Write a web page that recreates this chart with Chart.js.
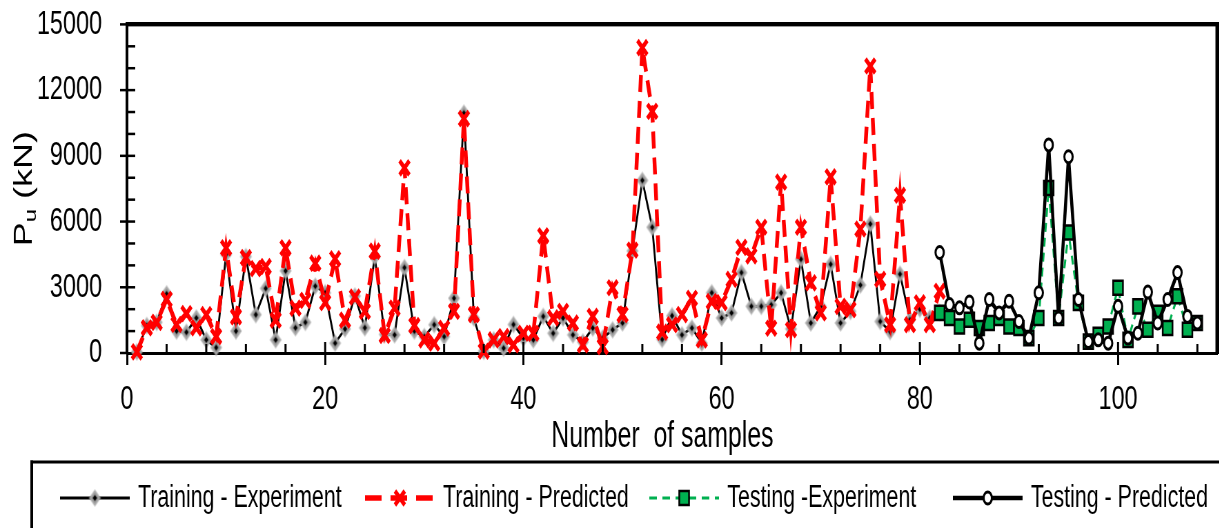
<!DOCTYPE html>
<html>
<head>
<meta charset="utf-8">
<title>Pu - training / testing</title>
<script src="https://cdn.jsdelivr.net/npm/chart.js@4.4.1/dist/chart.umd.min.js"></script>
<style>
  html, body { margin: 0; padding: 0; background: #fff; overflow: hidden; }
  /* the original figure is squeezed horizontally, so draw wide and squeeze */
  #wrap { width: 1767px; height: 528px; transform: scaleX(0.69); transform-origin: 0 0; }
</style>
</head>
<body>
<div id="wrap"><canvas id="chart" width="1767" height="528"></canvas></div>
<script>
// ── Data ────────────────────────────────────────────────
const TRAIN_FIRST = 1;
const TEST_FIRST = 82;

const trainExperiment = [
  50, 1250, 1400, 2700, 1000, 950, 1600, 600, 250, 4500,
  1000, 4400, 1750, 2950, 600, 3750, 1150, 1400, 3050, 2750,
  450, 1100, 2600, 1150, 4400, 850, 830, 3900, 1000, 750,
  1290, 750, 2500, 10950, 1600, 80, 600, 220, 1300, 680,
  600, 1670, 900, 1600, 830, 500, 1140, 680, 1060, 1370,
  4660, 7880, 5740, 620, 1700, 830, 1140, 450, 2750, 1600,
  1830, 3670, 2130, 2130, 2200, 2750, 1100, 4280, 1370, 2130,
  4050, 1370, 1900, 3100, 5890, 1440, 980, 3600, 1520, 2000,
  1600, 1850,
];
const trainPredicted = [
  50, 1150, 1400, 2450, 1300, 1800, 1150, 1750, 750, 4800,
  1650, 4350, 3850, 3950, 1500, 4800, 2050, 2400, 4100, 2300,
  4300, 1500, 2550, 1900, 4650, 800, 2050, 8450, 1250, 600,
  450, 1130, 1900, 10700, 1750, 80, 600, 750, 370, 900,
  900, 5350, 1600, 1900, 1370, 370, 1670, 290, 2980, 1750,
  4700, 13940, 11030, 950, 1290, 1750, 2500, 600, 2350, 2300,
  3360, 4820, 4430, 5740, 1130, 7800, 1060, 5740, 3200, 1830,
  8040, 2130, 1980, 5660, 13100, 3360, 1290, 7200, 1290, 2290,
  1290, 2820,
];
const testExperiment = [
  1830, 1600, 1210, 1520, 1140, 1370, 1600, 1210, 1140, 680,
  1600, 7530, 1600, 5500, 2290, 520, 830, 1210, 2980, 600,
  2130, 1060, 1830, 1140, 2590, 1060, 1370,
];
const testPredicted = [
  4590, 2210, 2060, 2330, 450, 2440, 1830, 2360, 1440, 680,
  2750, 9500, 1600, 8960, 2440, 520, 600, 450, 2130, 680,
  900, 2780, 1370, 2440, 3670, 1670, 1370,
];

const X_MIN = 0, X_MAX = 110, X_STEP = 20, X_MINOR = 4;
const Y_MIN = 0, Y_MAX = 15000, Y_STEP = 3000, Y_MINOR = 1000;

const X_TITLE = "Number  of samples";
const LABELS = ["Training - Experiment", "Training - Predicted", "Testing -Experiment", "Testing - Predicted"];

// ── Styling ─────────────────────────────────────────────
const FONT = '"Liberation Sans", Arial, sans-serif';
const GREEN = "#00b050";
const RED = "#ff0000";

function pts(vals, first) {
  return vals.map((v, i) => ({ x: first + i, y: v }));
}

function diamondImage() {
  const c = document.createElement("canvas");
  c.width = 20;
  c.height = 20;
  const g = c.getContext("2d");
  const d = (r, col) => {
    g.fillStyle = col;
    g.beginPath();
    g.moveTo(10, 10 - r);
    g.lineTo(10 + r, 10);
    g.lineTo(10, 10 + r);
    g.lineTo(10 - r, 10);
    g.closePath();
    g.fill();
  };
  d(9, "rgba(170,170,170,0.6)");
  d(7.5, "#a8a8a8");
  d(5, "#8a8a8a");
  d(3, "#000");
  return c;
}
const DIAMOND = diamondImage();

// frame-only axes (top and right edges of the plot box)
const frameAxis = (position, width) => ({
  type: "linear",
  position,
  display: true,
  min: 0,
  max: 1,
  ticks: { display: false },
  grid: { display: false, drawTicks: false },
  border: { display: true, color: "#000", width },
});

// ── Ticks, titles and legend ────────────────────────────
const decorPlugin = {
  id: "decor",
  afterDraw(chart) {
    const { ctx, scales } = chart;
    const x = scales.x, y = scales.y;
    const left = x.getPixelForValue(X_MIN);
    const right = x.getPixelForValue(X_MAX);
    const top = y.getPixelForValue(Y_MAX);
    const bottom = y.getPixelForValue(Y_MIN);
    ctx.save();
    ctx.fillStyle = "#000";

    // plot box top and right
    ctx.fillRect(left, top - 2, right - left + 2, 4);
    ctx.fillRect(right - 2.5, top - 2, 5, bottom - top + 2);

    // x ticks: minor ones inside, major ones cross the axis
    for (let v = X_MIN + X_MINOR; v < X_MAX; v += X_MINOR) {
      const px = x.getPixelForValue(v);
      const len = v % X_STEP === 0 ? 11 : 9;
      ctx.fillRect(px - 1.5, bottom - len, 3, len);
    }
    // y ticks: all inside, majors also outside
    for (let v = Y_MIN; v <= Y_MAX; v += Y_MINOR) {
      const py = y.getPixelForValue(v);
      if (v > Y_MIN) ctx.fillRect(left, py - 1.25, 12, 2.5);
      if (v % Y_STEP === 0) ctx.fillRect(left - 10, py - 1.25, 10, 2.5);
    }

    // x title
    ctx.font = "36px " + FONT;
    ctx.textAlign = "center";
    ctx.textBaseline = "middle";
    ctx.fillText(X_TITLE, (left + right) / 2 - 14, 437);

    // y title P_u (kN), rotated
    ctx.save();
    ctx.translate(36, (top + bottom) / 2);
    ctx.rotate(-Math.PI / 2);
    ctx.textAlign = "left";
    ctx.font = "36px " + FONT;
    const wP = ctx.measureText("P").width;
    const wRest = ctx.measureText(" (kN)").width;
    ctx.font = "24px " + FONT;
    const wU = ctx.measureText("u").width;
    let tx = -(wP + wU + wRest) / 2;
    ctx.font = "36px " + FONT;
    ctx.fillText("P", tx, 0);
    tx += wP;
    ctx.font = "24px " + FONT;
    ctx.fillText("u", tx, 9);
    tx += wU;
    ctx.font = "36px " + FONT;
    ctx.fillText(" (kN)", tx, 0);
    ctx.restore();

    // legend box (right and bottom edges fall outside the picture)
    ctx.fillRect(44, 460.5, chart.width, 3);
    ctx.fillRect(44, 460.5, 4, chart.height);

    // legend items
    const itemX = [87, 529, 941, 1381];
    const lineLen = 101;
    const ly = 498;
    chart.data.datasets.forEach((ds, i) => {
      const x0 = itemX[i];
      ctx.save();
      ctx.strokeStyle = ds.borderColor;
      ctx.lineWidth = ds.borderWidth;
      ctx.setLineDash(ds.legendDash || []);
      ctx.beginPath();
      ctx.moveTo(x0, ly);
      ctx.lineTo(x0 + lineLen, ly);
      ctx.stroke();
      ctx.setLineDash([]);
      ctx.fillStyle = ds.pointBackgroundColor || "#000";
      ctx.strokeStyle = ds.pointBorderColor || "#000";
      ctx.lineWidth = ds.pointBorderWidth || 1;
      Chart.helpers.drawPoint(
        ctx,
        { pointStyle: ds.pointStyle, radius: ds.pointRadius, borderWidth: ds.pointBorderWidth || 1, rotation: 0 },
        x0 + lineLen / 2,
        ly
      );
      ctx.restore();
      ctx.fillStyle = "#000";
      ctx.font = "31px " + FONT;
      ctx.textAlign = "left";
      ctx.textBaseline = "middle";
      ctx.fillText(LABELS[i], x0 + lineLen + 12, ly);
    });

    ctx.restore();
  },
};

// ── Chart ───────────────────────────────────────────────
new Chart(document.getElementById("chart"), {
  type: "line",
  data: {
    datasets: [
      {
        label: LABELS[0],
        data: pts(trainExperiment, TRAIN_FIRST),
        borderColor: "#000",
        borderWidth: 2.8,
        pointStyle: DIAMOND,
        pointRadius: 8,
        order: 4,
      },
      {
        label: LABELS[1],
        data: pts(trainPredicted, TRAIN_FIRST),
        borderColor: RED,
        borderWidth: 5.5,
        borderDash: [17, 9],
        legendDash: [24, 13],
        pointStyle: "crossRot",
        pointRadius: 10,
        pointBorderWidth: 5,
        pointBorderColor: RED,
        pointBackgroundColor: RED,
        order: 3,
      },
      {
        label: LABELS[2],
        data: pts(testExperiment, TEST_FIRST),
        borderColor: GREEN,
        borderWidth: 3,
        borderDash: [9, 6],
        legendDash: [11, 8],
        pointStyle: "rect",
        pointRadius: 10,
        pointBorderWidth: 2.5,
        pointBorderColor: "#000",
        pointBackgroundColor: GREEN,
        order: 2,
      },
      {
        label: LABELS[3],
        data: pts(testPredicted, TEST_FIRST),
        borderColor: "#000",
        borderWidth: 4.5,
        pointStyle: "circle",
        pointRadius: 6,
        pointBorderWidth: 3,
        pointBorderColor: "#000",
        pointBackgroundColor: "#fff",
        order: 1,
      },
    ],
  },
  options: {
    responsive: false,
    devicePixelRatio: 1,
    animation: false,
    events: [],
    clip: false,
    elements: { line: { tension: 0, fill: false } },
    layout: { autoPadding: false, padding: { left: 0, top: 11.6, right: 3, bottom: 0 } },
    plugins: { legend: { display: false }, tooltip: { enabled: false } },
    scales: {
      x: {
        type: "linear",
        min: X_MIN,
        max: X_MAX,
        afterFit: (s) => { s.height = 175; },
        ticks: { stepSize: X_STEP, includeBounds: false, maxRotation: 0, padding: 14, color: "#000", font: { family: FONT, size: 34 } },
        grid: { drawOnChartArea: false, drawTicks: true, tickLength: 12, tickWidth: 3, tickColor: "#000" },
        border: { display: true, color: "#000", width: 3 },
      },
      y: {
        min: Y_MIN,
        max: Y_MAX,
        afterFit: (s) => { s.width = 184; },
        // long transparent tick marks hold the labels off the axis; the visible ones are drawn by decorPlugin
        ticks: { stepSize: Y_STEP, padding: 4, color: "#000", font: { family: FONT, size: 34 }, callback: (v) => String(v) },
        grid: { drawOnChartArea: false, drawTicks: true, tickLength: 32, tickColor: "rgba(0,0,0,0)" },
        border: { display: true, color: "#000", width: 4 },
      },
      xTop: frameAxis("top", 4),
      yRight: frameAxis("right", 5),
    },
  },
  plugins: [decorPlugin],
});
</script>
</body>
</html>
